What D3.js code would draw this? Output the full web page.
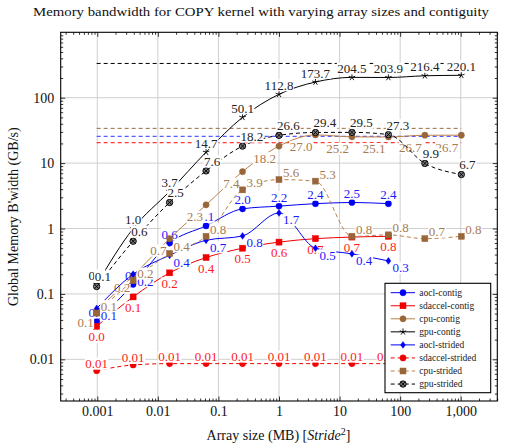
<!DOCTYPE html>
<html><head><meta charset="utf-8">
<script src="https://cdn.jsdelivr.net/npm/d3@7"></script>
<style>body{margin:0;background:#fff} text{font-family:"Liberation Serif","DejaVu Serif",serif}</style>
</head><body><svg id="c" width="525" height="447"></svg>
<script>
// ---------- data ----------
const sizesMB = [0.0009765625, 0.00390625, 0.015625, 0.0625, 0.25, 1, 4, 16, 64, 256, 1024];
const aoclContig     = [0.038, 0.14, 0.6, 1.1, 2.0, 2.2, 2.4, 2.5, 2.4];
const sdaccelContig  = [0.032, 0.09, 0.21, 0.36, 0.5, 0.62, 0.70, 0.74, 0.76];
const cpuContig      = [0.055, 0.19, 0.7, 2.3, 7.4, 18.2, 27.0, 25.2, 25.1, 26.7, 26.7];
const gpuContig      = [0.14, 1.0, 3.7, 14.7, 50.1, 112.8, 173.7, 204.5, 203.9, 216.4, 220.1];
const aoclStrided    = [0.06, 0.2, 0.39, 0.66, 0.77, 1.73, 0.5, 0.41, 0.32];
const sdaccelStrided = [0.0067, 0.0082, 0.0086, 0.0086, 0.0086, 0.0086, 0.0086, 0.0086, 0.0086];
const cpuStrided     = [0.051, 0.16, 0.415, 0.76, 3.9, 5.6, 5.3, 0.76, 0.8, 0.7, 0.76];
const gpuStrided     = [0.13, 0.64, 2.5, 7.6, 18.2, 26.6, 29.4, 29.5, 27.3, 9.9, 6.7];
const peakNames  = ["gpu", "cpu", "aocl", "sdaccel"];
const peakValues = [334, 34, 25.6, 20.5];
const seriesNames = ["aocl-contig","sdaccel-contig","cpu-contig","gpu-contig","aocl-strided","sdaccel-strided","cpu-strided","gpu-strided"];
const xTickValues = [0.001, 0.01, 0.1, 1, 10, 100, 1000];
const xTickLabels = ["0.001", "0.01", "0.1", "1", "10", "100", "1,000"];
const yTickValues = [0.01, 0.1, 1, 10, 100];
const yTickLabels = ["0.01", "0.1", "1", "10", "100"];
const titleText = "Memory bandwidth for COPY kernel with varying array sizes and contiguity";

// ---------- styles ----------
const BLUE="#0000f5", RED="#f00000", BROWN="#b8804a", BROWNM="#99663a", BLACK="#000";
const styles = [
  {data:aoclContig, color:BLUE, mfill:BLUE, tcolor:"#1a1aff", mark:"circle", dash:null, lab:{a:"middle",dx:0,dy:-4.5}, fmt:".1f"},
  {data:sdaccelContig, color:RED, mfill:RED, tcolor:"#ff1a1a", mark:"square", dash:null, lab:{a:"middle",dx:0,dy:15}, fmt:".1f"},
  {data:cpuContig, color:BROWN, mfill:BROWNM, tcolor:"#a77a50", mark:"circle", dash:null, lab:{a:"end",dx:-3,dy:16.5}, fmt:".1f"},
  {data:gpuContig, color:BLACK, mfill:BLACK, tcolor:"#222", mark:"star", dash:null, lab:{a:"middle",dx:0,dy:-4.5}, fmt:".1f"},
  {data:aoclStrided, color:BLUE, mfill:BLUE, tcolor:"#1a1aff", mark:"diamond", dash:null, lab:{a:"start",dx:4,dy:11.5}, fmt:".1f"},
  {data:sdaccelStrided, color:RED, mfill:RED, tcolor:"#ff1a1a", mark:"circle", dash:"4,3", lab:{a:"middle",dx:0,dy:-2.5}, fmt:".2f"},
  {data:cpuStrided, color:BROWN, mfill:BROWNM, tcolor:"#a77a50", mark:"square", dash:"4,3", lab:{a:"start",dx:4,dy:-2.5}, fmt:".1f"},
  {data:gpuStrided, color:BLACK, mfill:"#777", tcolor:"#222", mark:"otimes", dash:"4,3", lab:{a:"start",dx:-2,dy:-5}, fmt:".1f"}
];
const peakStyles = [
  {color:"#000", w:1}, {color:"#9a6a3a", w:1}, {color:"#5a5aff", w:1.3}, {color:"#ff0000", w:1}
];

// ---------- layout ----------
const L=60.7, R=497.3, T=32.3, B=401;
const x = d3.scaleLog().domain([Math.pow(10,-3.604), Math.pow(10,3.604)]).range([L,R]);
const y = d3.scaleLog().domain([Math.pow(10,-2.637), 1000]).range([B,T]);
const svg = d3.select("#c");

function minors(scale){
  const [a,b]=scale.domain(); const out=[];
  for(let e=Math.floor(Math.log10(a)); e<=Math.ceil(Math.log10(b)); e++)
    for(let m=2;m<=9;m++){const v=m*Math.pow(10,e); if(v>=a&&v<=b) out.push(v);}
  return out;
}

// grid
const grid = svg.append("g").attr("stroke","#cfcfcf").attr("stroke-width",1);
grid.selectAll(".gx").data(xTickValues).join("line")
  .attr("x1",d=>x(d)).attr("x2",d=>x(d)).attr("y1",T).attr("y2",B);
grid.selectAll(".gy").data(yTickValues).join("line")
  .attr("x1",L).attr("x2",R).attr("y1",d=>y(d)).attr("y2",d=>y(d));

// axes ticks (inward on all sides)
function axis(gen, tr, vals, size, labels){
  const g = svg.append("g").attr("transform",tr)
    .call(gen.tickValues(vals).tickSizeInner(size).tickSizeOuter(0)
      .tickFormat(labels ? ((d,i)=>labels[i]) : (()=>"")));
  g.select(".domain").remove();
  g.selectAll("line").attr("stroke","#000").attr("stroke-width",0.8);
  g.selectAll("text").attr("font-family",'"Liberation Serif",serif').attr("font-size",14).attr("fill","#111");
  return g;
}
const xb = axis(d3.axisBottom(x).tickPadding(5), `translate(0,${B})`, xTickValues, -4.5, xTickLabels);
axis(d3.axisBottom(x), `translate(0,${B})`, minors(x), -2.5);
axis(d3.axisTop(x), `translate(0,${T})`, xTickValues, -4.5);
axis(d3.axisTop(x), `translate(0,${T})`, minors(x), -2.5);
axis(d3.axisLeft(y).tickPadding(6.5), `translate(${L},0)`, yTickValues, -4.5, yTickLabels);
axis(d3.axisLeft(y), `translate(${L},0)`, minors(y), -2.5);
axis(d3.axisRight(y), `translate(${R},0)`, yTickValues, -4.5);
axis(d3.axisRight(y), `translate(${R},0)`, minors(y), -2.5);

// frame
svg.append("rect").attr("x",L).attr("y",T).attr("width",R-L).attr("height",B-T)
  .attr("fill","none").attr("stroke","#000").attr("stroke-width",1.1);

// peak reference lines
const xFirst = sizesMB[0], xLast = sizesMB[sizesMB.length-1];
peakValues.forEach((v,i)=>{
  svg.append("line").attr("x1",x(xFirst)).attr("x2",x(xLast)).attr("y1",y(v)).attr("y2",y(v))
    .attr("stroke",peakStyles[i].color).attr("stroke-width",peakStyles[i].w).attr("stroke-dasharray","4,3");
});

// markers
function marker(g, type, cx, cy, fill, stroke, s){
  s = s||1;
  if(type==="circle"){
    g.append("circle").attr("cx",cx).attr("cy",cy).attr("r",3.1*s).attr("fill",fill).attr("stroke",fill).attr("stroke-width",0.5);
  } else if(type==="square"){
    g.append("rect").attr("x",cx-3*s).attr("y",cy-3*s).attr("width",6*s).attr("height",6*s).attr("fill",fill).attr("stroke",fill).attr("stroke-width",0.5);
  } else if(type==="star"){
    for(let k=0;k<5;k++){const a=(-90+72*k)*Math.PI/180;
      g.append("line").attr("x1",cx).attr("y1",cy).attr("x2",cx+3.4*s*Math.cos(a)).attr("y2",cy+3.4*s*Math.sin(a))
        .attr("stroke",stroke).attr("stroke-width",0.9);}
  } else if(type==="diamond"){
    g.append("path").attr("d",`M${cx},${cy-3.4*s}L${cx+2.4*s},${cy}L${cx},${cy+3.4*s}L${cx-2.4*s},${cy}Z`).attr("fill",fill).attr("stroke",fill).attr("stroke-width",0.5);
  } else if(type==="otimes"){
    const r=3.2*s;
    g.append("circle").attr("cx",cx).attr("cy",cy).attr("r",r).attr("fill",fill).attr("stroke","#000").attr("stroke-width",0.9);
    const q=r*0.7;
    g.append("path").attr("d",`M${cx-q},${cy-q}L${cx+q},${cy+q}M${cx-q},${cy+q}L${cx+q},${cy-q}`).attr("stroke","#000").attr("stroke-width",0.9);
  }
}

function label(g, px, py, txt, color, lab){
  const gg = g.append("g");
  const t = gg.append("text").attr("x",px+lab.dx).attr("y",py+lab.dy).attr("text-anchor",lab.a)
    .attr("font-size",13).attr("fill",color).text(txt);
  const bb = t.node().getBBox();
  gg.insert("rect","text").attr("x",bb.x-0.5).attr("y",bb.y+1.5).attr("width",bb.width+1).attr("height",bb.height-3).attr("fill","#fff");
}

// series
styles.forEach((st)=>{
  const g = svg.append("g");
  const pts = st.data.map((v,i)=>[sizesMB[i], v]);
  g.append("path").attr("d", d3.line().x(d=>x(d[0])).y(d=>y(d[1])).curve(d3.curveMonotoneX)(pts))
    .attr("fill","none").attr("stroke",st.color).attr("stroke-width",1)
    .attr("stroke-dasharray",st.dash);
  pts.forEach(p=>marker(g, st.mark, x(p[0]), y(p[1]), st.mfill, st.color));
  const f = d3.format(st.fmt);
  pts.forEach(p=>label(g, x(p[0]), y(p[1]), f(p[1]), st.tcolor, st.lab));
});

// legend
const lg = svg.append("g");
const LX=385, LY=283.3, LW=105.7, LH=109.4;
lg.append("rect").attr("x",LX).attr("y",LY).attr("width",LW).attr("height",LH).attr("fill","#fff").attr("stroke","#000").attr("stroke-width",1.1);
seriesNames.forEach((n,i)=>{
  const st=styles[i], cy=LY+9.4+13.05*i;
  lg.append("line").attr("x1",LX+5.7).attr("x2",LX+30).attr("y1",cy).attr("y2",cy)
    .attr("stroke",st.color).attr("stroke-width",1).attr("stroke-dasharray",st.dash);
  marker(lg, st.mark, LX+18, cy, st.mfill, st.color, 1);
  lg.append("text").attr("x",LX+34.3).attr("y",cy+3).attr("font-size",9.5).attr("fill","#222").text(n);
});

// title and axis labels
svg.append("text").attr("x",261).attr("y",16).attr("text-anchor","middle").attr("font-size",12.5)
  .attr("textLength",456).attr("lengthAdjust","spacingAndGlyphs").attr("fill","#111").text(titleText);
const xl = svg.append("text").attr("x",278.5).attr("y",440).attr("text-anchor","middle").attr("font-size",14).attr("fill","#111");
xl.append("tspan").text("Array size (MB) [");
xl.append("tspan").attr("font-style","italic").text("Stride");
xl.append("tspan").attr("font-size",10).attr("dy",-5).text("2");
xl.append("tspan").attr("dy",5).text("]");
svg.append("text").attr("transform",`translate(18,${(T+B)/2}) rotate(-90)`).attr("text-anchor","middle")
  .attr("font-size",14).attr("fill","#111").text("Global Memory B'width (GB/s)");
</script></body></html>
